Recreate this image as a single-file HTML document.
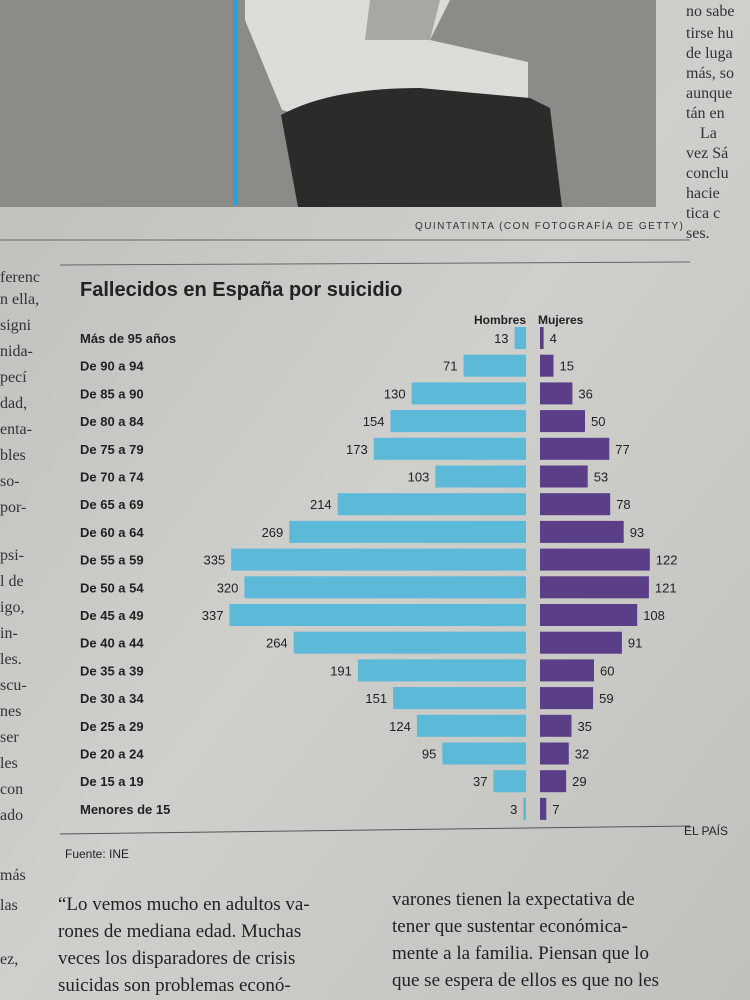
<!DOCTYPE html>
<html><head><meta charset="utf-8"><style>
body{margin:0;width:750px;height:1000px;overflow:hidden;background:#c6c6c2;font-family:"Liberation Sans",sans-serif}
svg{display:block}
</style></head><body>
<svg width="750" height="1000" viewBox="0 0 750 1000">
<defs><linearGradient id="pg" x1="0" y1="0" x2="1" y2="1"><stop offset="0" stop-color="#bdbdb9"/><stop offset="0.5" stop-color="#cfcfcb"/><stop offset="1" stop-color="#c0c0bc"/></linearGradient></defs>
<rect width="750" height="1000" fill="url(#pg)"/>
<g>
<rect x="0" y="0" width="682" height="300" fill="#c9c9c5" opacity="0"/>
<rect x="0" y="0" width="656" height="207" fill="#8d8b87"/>
<path d="M245 0 L450 0 L430 40 L528 62 L528 100 L300 115 L282 110 L245 20 Z" fill="#dedcd8"/>
<path d="M370 0 L440 0 L430 40 L365 40 Z" fill="#a9a7a3"/>
<path d="M281 115 Q330 88 420 88 L530 98 L550 108 L562 207 L298 207 Z" fill="#2c2b2a"/>
<rect x="233" y="0" width="5" height="205" fill="#2aa3d6"/>
</g>
<text x="683" y="229" font-size="10" text-anchor="end" fill="#333" letter-spacing="0.2" textLength="268">QUINTATINTA (CON FOTOGRAFÍA DE GETTY)</text>
<line x1="0" y1="240" x2="690" y2="240" stroke="#666" stroke-width="1"/>
<line x1="60" y1="265" x2="690" y2="262" stroke="#666" stroke-width="1"/>
<text x="80" y="296" font-size="20" font-weight="bold" fill="#222">Fallecidos en España por suicidio</text>
<text x="526" y="324" font-size="12" font-weight="bold" fill="#222" text-anchor="end">Hombres</text>
<text x="538" y="324" font-size="12" font-weight="bold" fill="#222">Mujeres</text>
<g id="bars"></g>
<line x1="60" y1="834" x2="690" y2="826" stroke="#555" stroke-width="1"/>
<text x="65" y="858" font-size="12" fill="#222">Fuente: INE</text>
<text x="728" y="835" font-size="12" fill="#222" text-anchor="end">EL PAÍS</text>
<g font-family="Liberation Serif,serif" font-size="19" fill="#222">
<text x="58" y="910">“Lo vemos mucho en adultos va-</text>
<text x="58" y="937">rones de mediana edad. Muchas</text>
<text x="58" y="964">veces los disparadores de crisis</text>
<text x="58" y="991">suicidas son problemas econó-</text>
<text x="392" y="905">varones tienen la expectativa de</text>
<text x="392" y="932">tener que sustentar económica-</text>
<text x="392" y="959">mente a la familia. Piensan que lo</text>
<text x="392" y="986">que se espera de ellos es que no les</text>
</g>
<g font-family="Liberation Serif,serif" font-size="16" fill="#333">
<text x="686" y="16">no sabe</text><text x="686" y="38">tirse hu</text><text x="686" y="58">de luga</text><text x="686" y="78">más, so</text><text x="686" y="98">aunque</text><text x="686" y="118">tán en</text><text x="700" y="138">La</text><text x="686" y="158">vez Sá</text><text x="686" y="178">conclu</text><text x="686" y="198">hacie</text><text x="686" y="218">tica c</text><text x="686" y="238">ses.</text>
<text x="0" y="282">ferenc</text><text x="0" y="304">n ella,</text><text x="0" y="330">signi</text><text x="0" y="356">nida-</text><text x="0" y="382">pecí</text><text x="0" y="408">dad,</text><text x="0" y="434">enta-</text><text x="0" y="460">bles</text><text x="0" y="486">so-</text><text x="0" y="512">por-</text><text x="0" y="560">psi-</text><text x="0" y="586">l de</text><text x="0" y="612">igo,</text><text x="0" y="638">in-</text><text x="0" y="664">les.</text><text x="0" y="690">scu-</text><text x="0" y="716">nes</text><text x="0" y="742">ser</text><text x="0" y="768">les</text><text x="0" y="794">con</text><text x="0" y="820">ado</text><text x="0" y="880">más</text><text x="0" y="910">las</text><text x="0" y="964">ez,</text>
</g>
</svg>
<script>
const categories=["Más de 95 años","De 90 a 94","De 85 a 90","De 80 a 84","De 75 a 79","De 70 a 74","De 65 a 69","De 60 a 64","De 55 a 59","De 50 a 54","De 45 a 49","De 40 a 44","De 35 a 39","De 30 a 34","De 25 a 29","De 20 a 24","De 15 a 19","Menores de 15"];
const hombres=[13,71,130,154,173,103,214,269,335,320,337,264,191,151,124,95,37,3];
const mujeres=[4,15,36,50,77,53,78,93,122,121,108,91,60,59,35,32,29,7];
const NS="http://www.w3.org/2000/svg";
const g=document.getElementById("bars");
const xMen=v=>526-v*0.88, xWom=v=>540+v*0.9;
const yRow=i=>338+i*27.7;
function el(t,a,txt){const e=document.createElementNS(NS,t);for(const k in a)e.setAttribute(k,a[k]);if(txt!=null)e.textContent=txt;g.appendChild(e);return e;}
categories.forEach((c,i)=>{
 const y=yRow(i);
 const l=el("text",{x:80,y:y+5,"font-size":13,"font-weight":"bold",fill:"#222"},c);
 
 
 const m=el("rect",{x:xMen(hombres[i]),y:y-11,width:526-xMen(hombres[i]),height:22,fill:"#5cb9d8"});
 
 
 const w=el("rect",{x:540,y:y-11,width:xWom(mujeres[i])-540,height:22,fill:"#5a3f88"});
 
 
 const mv=el("text",{x:xMen(hombres[i])-6,y:y+5,"font-size":13,fill:"#222","text-anchor":"end"},hombres[i]);
 
 
 const wv=el("text",{x:xWom(mujeres[i])+6,y:y+5,"font-size":13,fill:"#222"},mujeres[i]);
 
 
});
</script>
</body></html>
